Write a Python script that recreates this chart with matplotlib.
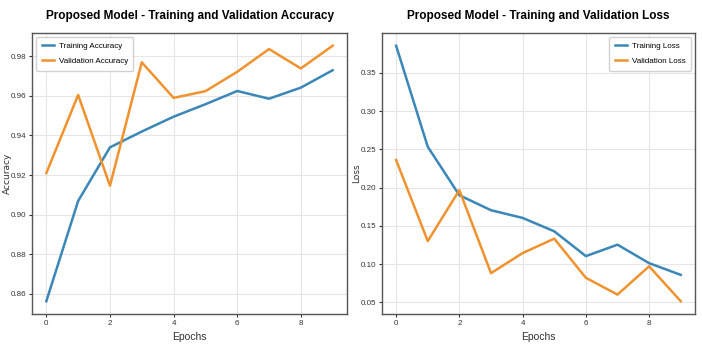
import numpy as np
import matplotlib
matplotlib.use("Agg")
from matplotlib import pyplot as plt

epochs = list(range(10))
train_acc = [0.8562, 0.9069, 0.9340, 0.9420, 0.9495, 0.9558, 0.9625, 0.9586, 0.9642, 0.9730]
val_acc = [0.9210, 0.9605, 0.9146, 0.9770, 0.9590, 0.9624, 0.9722, 0.9837, 0.9739, 0.9854]
train_loss = [0.3857, 0.2535, 0.1900, 0.1704, 0.1603, 0.1428, 0.1103, 0.1253, 0.1011, 0.0858]
val_loss = [0.2361, 0.1300, 0.1967, 0.0880, 0.1143, 0.1332, 0.0819, 0.0600, 0.0970, 0.0513]
acc_ticks = [0.86, 0.88, 0.90, 0.92, 0.94, 0.96, 0.98]
loss_ticks = [0.05, 0.10, 0.15, 0.20, 0.25, 0.30, 0.35]

plt.rcParams['font.family'] = ['Liberation Sans', 'DejaVu Sans']

blue = '#3a87b8'
orange = '#f0922e'

fig = plt.figure(figsize=(7.02, 3.54), dpi=100)
ax1 = fig.add_axes([0.0456, 0.113, 0.4487, 0.794])
ax2 = fig.add_axes([0.544, 0.113, 0.446, 0.794])

def style(ax):
  ax.grid(True, color='#e6e6e6', linewidth=0.8)
  ax.set_axisbelow(True)
  for s in ax.spines.values():
    s.set_color('#555555')
    s.set_linewidth(1.0)
  ax.tick_params(labelsize=5.8, colors='#333333', length=2.5, width=0.8, pad=1.5)

ax1.plot(epochs, train_acc, color=blue, lw=1.8, label='Training Accuracy')
ax1.plot(epochs, val_acc, color=orange, lw=1.8, label='Validation Accuracy')
ax1.set_title('Proposed Model - Training and Validation Accuracy', fontsize=8.5, fontweight='bold', pad=10)
ax1.set_xlabel('Epochs', fontsize=7.5, color='#333333', labelpad=4)
ax1.set_ylabel('Accuracy', fontsize=6.5, color='#333333', family='DejaVu Sans')
ax1.yaxis.set_label_coords(-0.064, 0.5)
ax1.set_yticks(acc_ticks)
ax1.legend(loc='upper left', fontsize=5.8, framealpha=0.9, handlelength=1.5,
           labelspacing=0.9, borderpad=0.7, handletextpad=0.6)
style(ax1)

ax2.plot(epochs, train_loss, color=blue, lw=1.8, label='Training Loss')
ax2.plot(epochs, val_loss, color=orange, lw=1.8, label='Validation Loss')
ax2.set_title('Proposed Model - Training and Validation Loss', fontsize=8.5, fontweight='bold', pad=10)
ax2.set_xlabel('Epochs', fontsize=7.5, color='#333333', labelpad=4)
ax2.set_ylabel('Loss', fontsize=6.5, color='#333333', family='DejaVu Sans')
ax2.yaxis.set_label_coords(-0.066, 0.5)
ax2.set_yticks(loss_ticks)
ax2.legend(loc='upper right', fontsize=5.8, framealpha=0.9, handlelength=1.5,
           labelspacing=0.9, borderpad=0.7, handletextpad=0.6)
style(ax2)

fig.savefig('out.png', dpi=100)
